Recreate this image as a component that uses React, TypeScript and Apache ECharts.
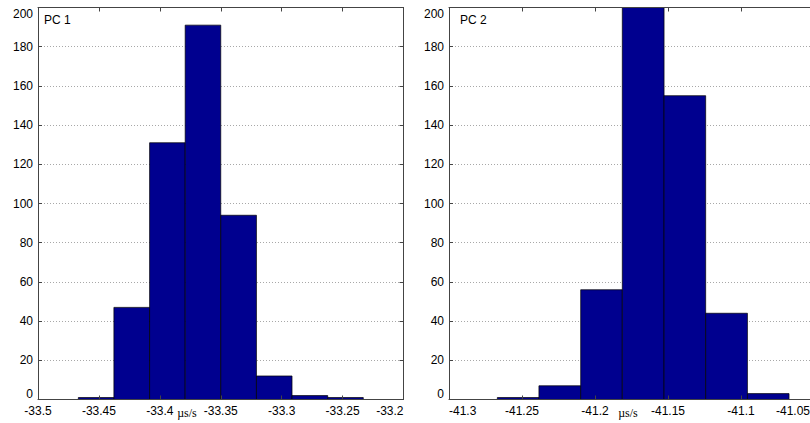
import React, { useEffect, useRef } from "react";
import * as echarts from "echarts";

// PC 1 histogram: bin edges (µs/s) and counts
const pc1Edges = [-33.4669, -33.4377, -33.4084, -33.3792, -33.35, -33.3207, -33.2915, -33.2622, -33.233];
const pc1Counts = [1, 47, 131, 191, 94, 12, 2, 1];
// PC 2 histogram
const pc2Edges = [-41.2669, -41.2384, -41.2098, -41.1813, -41.1527, -41.1242, -41.0956, -41.0671];
const pc2Counts = [1, 7, 56, 204, 155, 44, 3];

const yTicks = { min: 0, max: 200, interval: 20 };
const pc1X = { min: -33.5, max: -33.2, interval: 0.05 };
const pc2X = { min: -41.3, max: -41.05, interval: 0.05 };
const titles = ["PC 1", "PC 2"];
const unitLabel = "µs/s";

const FONT = "'Liberation Sans', Arial, Helvetica, sans-serif";
const FRAME = "#444";
const BAR = "#00008F";

function toData(edges: number[], counts: number[]) {
  return counts.map((c, i) => [edges[i], edges[i + 1], c]);
}

function fmt(v: number) {
  return String(Number(v.toFixed(2)));
}

export default function App() {
  const ref = useRef<HTMLDivElement>(null);
  useEffect(() => {
    if (!ref.current) return;
    const chart = echarts.init(ref.current, null, { renderer: "svg" });

    const grids = [
      { left: 38, top: 7.5, width: 365.5, height: 392 },
      { left: 449, top: 7.5, width: 365, height: 392 },
    ];

    const renderItem = (params: any, api: any) => {
      const x0 = api.value(0);
      const x1 = api.value(1);
      const c = api.value(2);
      const p0 = api.coord([x0, c]);
      const p1 = api.coord([x1, 0]);
      const rect = echarts.graphic.clipRectByRect(
        { x: p0[0], y: p0[1], width: p1[0] - p0[0], height: p1[1] - p0[1] },
        params.coordSys
      );
      if (!rect) return null;
      return {
        type: "rect",
        shape: rect,
        style: { fill: BAR, stroke: "#000", lineWidth: 0.7 },
      };
    };

    const xBottom = (gi: number, range: any, alignMin: string | undefined) => ({
      type: "value",
      gridIndex: gi,
      position: "bottom",
      ...range,
      z: 5,
      axisLine: { show: true, onZero: false, lineStyle: { color: FRAME, width: 1 } },
      axisTick: { show: true, inside: true, length: 4, lineStyle: { color: FRAME } },
      splitLine: { show: false },
      axisLabel: {
        show: true,
        margin: 5,
        color: "#000",
        fontSize: 12,
        fontFamily: FONT,
        showMinLabel: true,
        showMaxLabel: true,
        alignMinLabel: alignMin,
        alignMaxLabel: "right",
        formatter: (v: number) => (Math.abs(v - range.max) < 1e-6 && gi === 1 ? "{r|" + fmt(v) + "}" : fmt(v)),
        rich: { r: { fontSize: 12, fontFamily: FONT, color: "#000", padding: [0, 4, 0, 0] } },
      },
    });
    const xTop = (gi: number, range: any) => ({
      type: "value",
      gridIndex: gi,
      position: "top",
      ...range,
      z: 5,
      axisLine: { show: true, onZero: false, lineStyle: { color: FRAME, width: 1 } },
      axisTick: { show: true, inside: true, length: 4, lineStyle: { color: FRAME } },
      splitLine: { show: false },
      axisLabel: { show: false },
    });
    const yLeft = (gi: number) => ({
      type: "value",
      gridIndex: gi,
      position: "left",
      ...yTicks,
      z: 0,
      axisLine: { show: true, onZero: false, lineStyle: { color: FRAME, width: 1 } },
      axisTick: { show: true, inside: true, length: 4, lineStyle: { color: FRAME } },
      splitLine: { show: true, lineStyle: { color: "#a8a8a8", type: [1, 2], width: 1 } },
      axisLabel: {
        show: true,
        margin: 5,
        color: "#000",
        fontSize: 12,
        fontFamily: FONT,
        showMinLabel: true,
        showMaxLabel: true,
        verticalAlignMaxLabel: "top",
        verticalAlignMinLabel: "bottom",
      },
    });
    const yRight = (gi: number) => ({
      type: "value",
      gridIndex: gi,
      position: "right",
      ...yTicks,
      z: 5,
      axisLine: { show: true, onZero: false, lineStyle: { color: FRAME, width: 1 } },
      axisTick: { show: true, inside: true, length: 4, lineStyle: { color: FRAME } },
      splitLine: { show: false },
      axisLabel: { show: false },
    });

    chart.setOption({
      animation: false,
      backgroundColor: "#fff",
      grid: grids,
      xAxis: [xBottom(0, pc1X, undefined), xTop(0, pc1X), xBottom(1, pc2X, "left"), xTop(1, pc2X)],
      yAxis: [yLeft(0), yRight(0), yLeft(1), yRight(1)],
      graphic: [
        { type: "text", left: 44, top: 14, style: { text: titles[0], font: `12px ${FONT}`, fill: "#000" } },
        { type: "text", left: 460, top: 14, style: { text: titles[1], font: `12px ${FONT}`, fill: "#000" } },
        { type: "text", x: 187, y: 413, style: { text: unitLabel, font: "12px 'Liberation Serif', 'Times New Roman', serif", fill: "#000", align: "center", verticalAlign: "middle" } },
        { type: "text", x: 628, y: 413, style: { text: unitLabel, font: "12px 'Liberation Serif', 'Times New Roman', serif", fill: "#000", align: "center", verticalAlign: "middle" } },
      ],
      series: [
        {
          type: "custom",
          xAxisIndex: 0,
          yAxisIndex: 0,
          z: 2,
          encode: { x: [0, 1], y: 2 },
          data: toData(pc1Edges, pc1Counts),
          renderItem,
        },
        {
          type: "custom",
          xAxisIndex: 2,
          yAxisIndex: 2,
          z: 2,
          encode: { x: [0, 1], y: 2 },
          data: toData(pc2Edges, pc2Counts),
          renderItem,
        },
      ],
    });
    return () => chart.dispose();
  }, []);

  return (
    <div style={{ position: "fixed", left: 0, top: 0, width: 810, height: 423, overflow: "hidden", background: "#fff" }}>
      <div ref={ref} style={{ width: 814, height: 423 }} />
    </div>
  );
}
